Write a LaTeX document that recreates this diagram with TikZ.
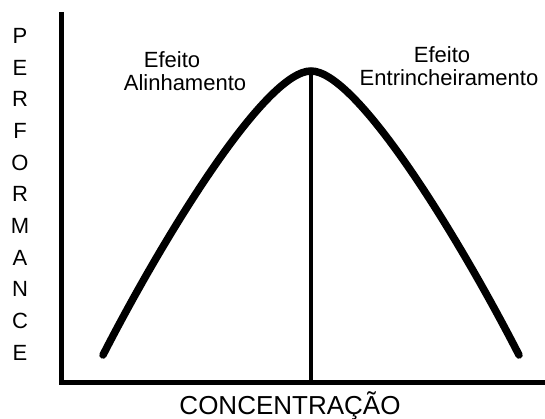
\documentclass[tikz,border=0pt]{standalone}
\usepackage{fontspec}
\setmainfont{Liberation Sans}
\begin{document}
\begin{tikzpicture}[x=1pt,y=1pt,
  eixo/.style={line width=5pt},
  curva/.style={line width=7.5pt,line cap=round},
  rotulo/.style={font=\fontsize{22}{24}\selectfont,inner sep=0pt,anchor=base}]
\useasboundingbox (0,0) rectangle (545,418);

% eixos
\coordinate (topo) at (61,406);
\coordinate (origem) at (61,36);
\coordinate (fim) at (545,36);
\draw[eixo] (topo) -- (origem) -- (fim);

% curva
\coordinate (ini) at (103,63);
\coordinate (pico) at (311,347);
\coordinate (fin) at (519,63);
\coordinate (base) at (311,36);
\draw[curva] (ini) .. controls (163,180) and (265,347) .. (pico)
  .. controls (357,347) and (459,180) .. (fin);
\draw[line width=3.5pt] (pico) -- (base);

\node[rotulo] (efeitoA) at (172,350) {Efeito};
\node[rotulo] (alinh) at (185,327) {Alinhamento};
\node[rotulo] (efeitoB) at (442,355) {Efeito};
\node[rotulo] (entrinch) at (449,332) {Entrincheiramento};
\node[rotulo,font=\fontsize{26}{28}\selectfont] (conc) at (290,4) {CONCENTRAÇÃO};
\node[font=\fontsize{22}{31.7}\selectfont,align=center,inner sep=0pt,anchor=north]
  (perf) at (20,390) {P\\E\\R\\F\\O\\R\\M\\A\\N\\C\\E};

\end{tikzpicture}
\end{document}
